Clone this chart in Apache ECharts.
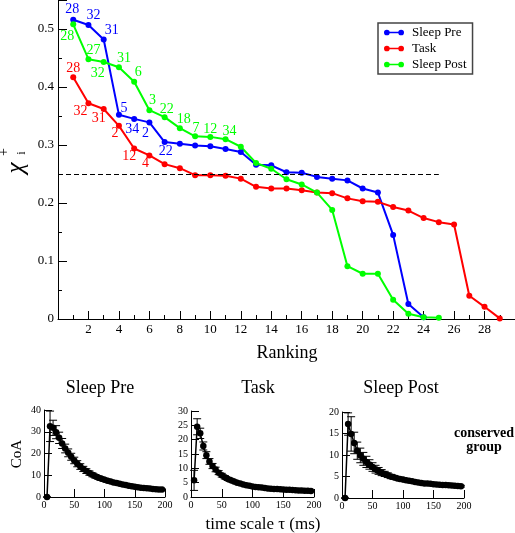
<!DOCTYPE html>
<html>
<head>
<meta charset="utf-8">
<script src="https://cdn.jsdelivr.net/npm/echarts@6/dist/echarts.min.js"></script>
<style>
html,body{margin:0;padding:0;background:#fff;}
#c{width:515px;height:533px;}
</style>
</head>
<body>
<div id="c"></div>
<script>
// ---------- DATA ----------
const rankings = [1,2,3,4,5,6,7,8,9,10,11,12,13,14,15,16,17,18,19,20,21,22,23,24,25,26,27,28,29];
const sleepPre = [0.516,0.507,0.482,0.352,0.345,0.339,0.305,0.302,0.299,0.298,0.293,0.288,0.266,0.265,0.253,0.252,0.245,0.242,0.239,0.225,0.218,0.145,0.026,0.003];
const task = [0.417,0.372,0.362,0.333,0.294,0.282,0.267,0.260,0.248,0.248,0.247,0.242,0.228,0.225,0.225,0.222,0.218,0.217,0.208,0.203,0.202,0.193,0.187,0.174,0.167,0.163,0.040,0.021,0.001];
const sleepPost = [0.508,0.448,0.443,0.434,0.409,0.360,0.348,0.329,0.315,0.314,0.310,0.297,0.269,0.259,0.241,0.232,0.218,0.188,0.091,0.078,0.078,0.033,0.009,0.003,0.002];
const preLabels = ['28','32','31','5','34','2','22'];
const taskLabels = ['28','32','31','2','12','4'];
const postLabels = ['28','27','32','31','6','3','22','18','7','12','34'];
const threshold = 0.25;
const thresholdEnd = 25;

const tau = [5,10,15,20,25,30,35,40,45,50,55,60,65,70,75,80,85,90,95,100,105,110,115,120,125,130,135,140,145,150,155,160,165,170,175,180,185,190,195];
const coaPre = [0,32.5,31.8,29.8,27.2,24.6,22.3,20.3,18.5,16.8,15.3,14.0,12.9,11.9,11.0,10.2,9.5,8.9,8.4,7.9,7.5,7.1,6.7,6.4,6.1,5.8,5.5,5.2,4.9,4.7,4.5,4.3,4.1,4.0,3.9,3.7,3.6,3.5,3.4];
const errPre = [0,7,3.5,3.0,2.6,2.3,2.0,1.8,1.6,1.5,1.4,1.3,1.2,1.1,1.0,0.9,0.85,0.8,0.75,0.7,0.65,0.6,0.55,0.5,0.5,0.45,0.45,0.4,0.4,0.4,0.35,0.35,0.35,0.3,0.3,0.3,0.3,0.3,0.3];
const coaTask = [5.8,24.5,22.2,17.8,14.6,12.4,10.8,9.6,8.5,7.6,6.9,6.3,5.8,5.4,5.0,4.7,4.4,4.1,3.9,3.7,3.5,3.4,3.3,3.1,3.0,2.9,2.8,2.75,2.7,2.6,2.55,2.5,2.4,2.35,2.3,2.25,2.2,2.15,2.1];
const errTask = [3.5,2.8,1.8,1.4,1.2,1.0,0.9,0.8,0.7,0.65,0.6,0.55,0.5,0.45,0.4,0.4,0.35,0.35,0.3,0.3,0.3,0.25,0.25,0.25,0.2,0.2,0.2,0.2,0.2,0.2,0.2,0.2,0.2,0.2,0.2,0.2,0.2,0.2,0.2];
const coaPost = [0,17.2,14.9,12.8,11.0,9.9,9.1,8.4,7.8,7.2,6.7,6.3,5.9,5.6,5.3,5.0,4.8,4.6,4.4,4.3,4.1,4.0,3.9,3.7,3.6,3.5,3.4,3.35,3.3,3.2,3.15,3.1,3.05,3.0,2.95,2.9,2.85,2.8,2.75];
const errPost = [0,2.6,4.0,2.5,2.0,1.7,1.5,1.3,1.1,1.0,0.9,0.8,0.7,0.6,0.55,0.5,0.45,0.4,0.4,0.35,0.35,0.3,0.3,0.3,0.3,0.25,0.25,0.25,0.25,0.25,0.2,0.2,0.2,0.2,0.2,0.2,0.2,0.2,0.2];

// ---------- STYLE ----------
const SERIF = '"Liberation Serif","DejaVu Serif",serif';
const BLUE = '#0000ff', RED = '#ff0000', GREEN = '#00ff00';
const preOff = [[-1,-10],[5,-10],[8,-9],[5,-7],[-2,10],[-4,11],[1,9]];
const taskOff = [[0,-9],[-8,8],[-5,9],[-4,7],[-5,8],[-4,8]];
const postOff = [[-6,12],[5,-9],[-6,11],[5,-9],[4,-9],[3,-10],[2,-8],[4,-9],[1,-8],[0,-8],[4,-8]];

function mainData(vals, labels, offs, color) {
  return vals.map((v, i) => {
    const item = { value: [rankings[i], v] };
    if (i < labels.length) {
      item.label = {
        show: true, formatter: labels[i], position: 'inside',
        offset: offs[i], color: color, fontFamily: SERIF, fontSize: 14
      };
    }
    return item;
  });
}

const legendIcon = 'path://M0,4A4,4 0 1,1 8,4A4,4 0 1,1 0,4Z M7,3L21,3L21,5L7,5Z M20,4A4,4 0 1,1 28,4A4,4 0 1,1 20,4Z';

function mainSeries(name, vals, labels, offs, color, extra) {
  return Object.assign({
    name: name, type: 'line', xAxisIndex: 0, yAxisIndex: 0,
    data: mainData(vals, labels, offs, color),
    symbol: 'circle', symbolSize: 6, showSymbol: true,
    lineStyle: { color: color, width: 2 },
    itemStyle: { color: color },
    label: { show: false },
    emphasis: { disabled: true },
    animation: false
  }, extra || {});
}

function errRender(params, api) {
  const x = api.value(0), lo = api.value(1), hi = api.value(2);
  const p1 = api.coord([x, lo]), p2 = api.coord([x, hi]);
  const w = 4;
  const st = { stroke: '#000', lineWidth: 1 };
  return {
    type: 'group', children: [
      { type: 'line', shape: { x1: p1[0], y1: p1[1], x2: p2[0], y2: p2[1] }, style: st },
      { type: 'line', shape: { x1: p1[0] - w, y1: p1[1], x2: p1[0] + w, y2: p1[1] }, style: st },
      { type: 'line', shape: { x1: p2[0] - w, y1: p2[1], x2: p2[0] + w, y2: p2[1] }, style: st }
    ]
  };
}

function smallSeries(idx, vals, errs) {
  return [
    {
      type: 'custom', xAxisIndex: idx, yAxisIndex: idx, renderItem: errRender,
      data: tau.map((t, i) => [t, vals[i] - errs[i], vals[i] + errs[i]]),
      encode: { x: 0, y: [1, 2] }, silent: true, animation: false, clip: false
    },
    {
      type: 'line', xAxisIndex: idx, yAxisIndex: idx,
      data: tau.map((t, i) => [t, vals[i]]),
      symbol: 'circle', symbolSize: 6.5, showSymbol: true,
      lineStyle: { color: '#000', width: 1.5 }, itemStyle: { color: '#000' },
      emphasis: { disabled: true }, animation: false, z: 3
    }
  ];
}

const smallAxisCommon = {
  axisLine: { show: true, onZero: false, lineStyle: { color: '#000', width: 1 } },
  axisTick: { show: true, inside: true, length: 8, lineStyle: { color: '#000' } },
  axisLabel: { color: '#000', fontFamily: SERIF, fontSize: 10, margin: 3 },
  splitLine: { show: false }
};

function smallX(idx) {
  return Object.assign({}, smallAxisCommon, {
    type: 'value', gridIndex: idx, min: 0, max: 200, interval: 50
  });
}
function smallY(idx, max, interval) {
  return Object.assign({}, smallAxisCommon, {
    type: 'value', gridIndex: idx, min: 0, max: max, interval: interval
  });
}

const chart = echarts.init(document.getElementById('c'), null, { renderer: 'canvas' });

const option = {
  backgroundColor: '#fff',
  animation: false,
  textStyle: { fontFamily: SERIF },
  grid: [
    { left: 58, right: 0, top: 0, height: 319, containLabel: false },
    { left: 44, top: 410, width: 121, height: 87 },
    { left: 191, top: 411, width: 123, height: 86 },
    { left: 342, top: 412, width: 122, height: 86 }
  ],
  legend: {
    left: 378, top: 23, orient: 'vertical',
    data: ['Sleep Pre', 'Task', 'Sleep Post'],
    icon: legendIcon, itemWidth: 20, itemHeight: 6, itemGap: 3,
    padding: [3, 6, 3, 6],
    borderColor: '#444', borderWidth: 1.5,
    textStyle: { color: '#000', fontFamily: SERIF, fontSize: 13, padding: [0, 0, 0, 3] },
    selectedMode: false
  },
  xAxis: [
    {
      type: 'value', gridIndex: 0, min: 0, max: 30, interval: 2,
      axisLine: { show: true, onZero: false, lineStyle: { color: '#000', width: 1 } },
      axisTick: { show: true, inside: true, length: 8, lineStyle: { color: '#000' } },
      minorTick: { show: true, splitNumber: 2, length: 4, lineStyle: { color: '#000' } },
      axisLabel: { color: '#000', fontFamily: SERIF, fontSize: 13, margin: 4, showMinLabel: false, showMaxLabel: false },
      splitLine: { show: false }
    },
    smallX(1), smallX(2), smallX(3)
  ],
  yAxis: [
    {
      type: 'value', gridIndex: 0, min: 0, max: 0.55, interval: 0.1,
      axisLine: { show: true, onZero: false, lineStyle: { color: '#000', width: 1 } },
      axisTick: { show: true, inside: true, length: 9, lineStyle: { color: '#000' } },
      minorTick: { show: true, splitNumber: 2, length: 4, lineStyle: { color: '#000' } },
      axisLabel: {
        color: '#000', fontFamily: SERIF, fontSize: 13, margin: 4, showMaxLabel: false,
        formatter: v => (v === 0 ? '0' : v.toFixed(1))
      },
      splitLine: { show: false }
    },
    smallY(1, 40, 10), smallY(2, 30, 5), smallY(3, 20, 5)
  ],
  series: [
    mainSeries('Sleep Pre', sleepPre, preLabels, preOff, BLUE),
    mainSeries('Task', task, taskLabels, taskOff, RED),
    mainSeries('Sleep Post', sleepPost, postLabels, postOff, GREEN, {
      markLine: {
        silent: true, symbol: 'none', animation: false,
        label: { show: false },
        lineStyle: { color: '#000', type: [5, 3], width: 1 },
        data: [[{ coord: [0, threshold] }, { coord: [thresholdEnd, threshold] }]]
      }
    }),
    ...smallSeries(1, coaPre, errPre),
    ...smallSeries(2, coaTask, errTask),
    ...smallSeries(3, coaPost, errPost)
  ],
  graphic: [
    { type: 'text', x: 16, y: 168, rotation: Math.PI / 2,
      style: { text: 'χ', font: 'italic 25px ' + SERIF, fill: '#000', textAlign: 'center', textVerticalAlign: 'middle' } },
    { type: 'text', x: 22, y: 153, rotation: Math.PI / 2,
      style: { text: 'i', font: '12px ' + SERIF, fill: '#000', textAlign: 'center', textVerticalAlign: 'middle' } },
    { type: 'text', x: 4, y: 152, rotation: Math.PI / 2,
      style: { text: '+', font: '14px ' + SERIF, fill: '#000', textAlign: 'center', textVerticalAlign: 'middle' } },
    { type: 'text', x: 287, y: 353,
      style: { text: 'Ranking', font: '18px ' + SERIF, fill: '#000', textAlign: 'center', textVerticalAlign: 'middle' } },
    { type: 'text', x: 100, y: 388,
      style: { text: 'Sleep Pre', font: '18px ' + SERIF, fill: '#000', textAlign: 'center', textVerticalAlign: 'middle' } },
    { type: 'text', x: 258, y: 388,
      style: { text: 'Task', font: '18px ' + SERIF, fill: '#000', textAlign: 'center', textVerticalAlign: 'middle' } },
    { type: 'text', x: 401, y: 388,
      style: { text: 'Sleep Post', font: '18px ' + SERIF, fill: '#000', textAlign: 'center', textVerticalAlign: 'middle' } },
    { type: 'text', x: 17, y: 454, rotation: Math.PI / 2,
      style: { text: 'CoA', font: '15px ' + SERIF, fill: '#000', textAlign: 'center', textVerticalAlign: 'middle' } },
    { type: 'text', x: 263, y: 525,
      style: { text: 'time scale τ (ms)', font: '17px ' + SERIF, fill: '#000', textAlign: 'center', textVerticalAlign: 'middle' } },
    { type: 'text', x: 484, y: 433,
      style: { text: 'conserved', font: 'bold 14px ' + SERIF, fill: '#000', textAlign: 'center', textVerticalAlign: 'middle' } },
    { type: 'text', x: 484, y: 447,
      style: { text: 'group', font: 'bold 14px ' + SERIF, fill: '#000', textAlign: 'center', textVerticalAlign: 'middle' } }
  ]
};

chart.setOption(option);
</script>
</body>
</html>
